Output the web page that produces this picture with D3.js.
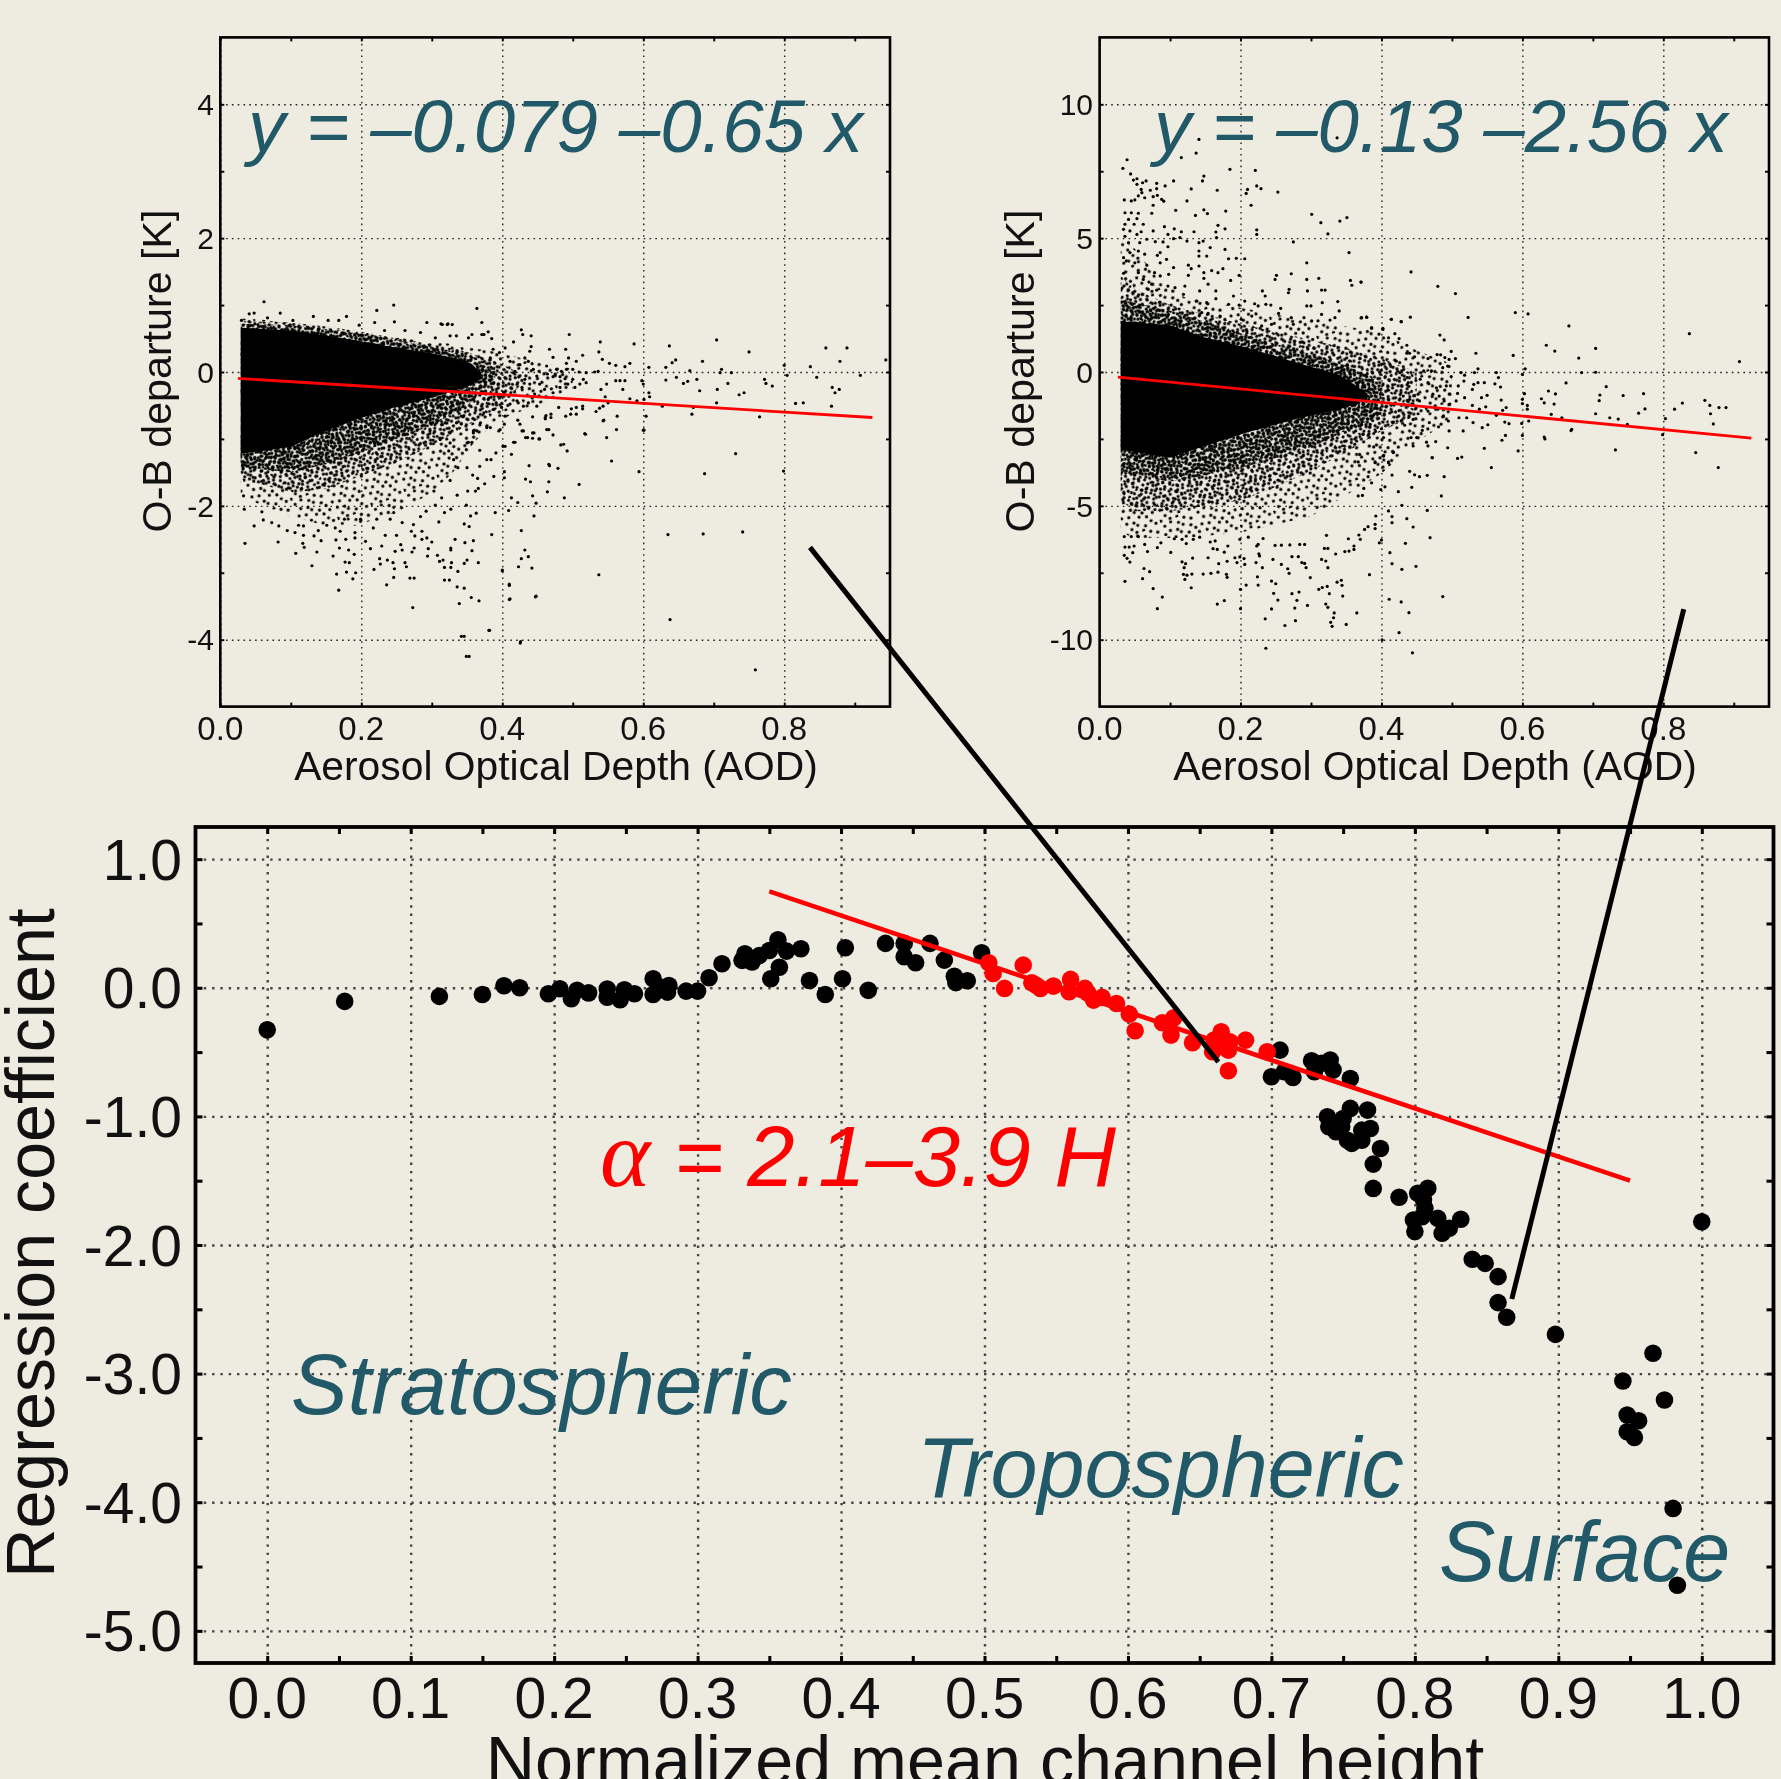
<!DOCTYPE html>
<html>
<head>
<meta charset="utf-8">
<title>AOD regression</title>
<script src="https://cdn.jsdelivr.net/npm/d3@7/dist/d3.min.js"></script>
<style>
    html, body { margin: 0; padding: 0; background: #eeece1; }
    svg { display: block; filter: blur(0.45px); }
    text { font-family: "Liberation Sans", Arial, sans-serif; fill: #111; }
    .grid line { fill: none; }
    .domain { display: none; }
    .note { fill: #215968; font-style: italic; }
    .red { fill: #ff0000; font-style: italic; }
</style>
</head>
<body>
<div id="chart"></div>
<script>
// ---- top panels: tick labels
var aodTicks = [0, 0.2, 0.4, 0.6, 0.8];
var aodMinor = [0.1, 0.3, 0.5, 0.7, 0.9];
var leftTicks = [-4, -2, 0, 2, 4];
var leftMinor = [-3, -1, 1, 3];
var rightTicks = [-10, -5, 0, 5, 10];
var rightMinor = [-7.5, -2.5, 2.5, 7.5];

// regression lines
var leftFitX = [0.025, 0.925];
var leftFitY = [-0.095, -0.68];
var rightFitX = [0.026, 0.925];
var rightFitY = [-0.19, -2.47];

// the black mass of the left panel, too dense to read point by point
var leftMassX = [0.029, 0.1, 0.14, 0.19, 0.24, 0.3, 0.35, 0.37];
var leftMassTop = [0.66, 0.62, 0.56, 0.48, 0.38, 0.28, 0.16, 0];
var leftMassBottom = [-1.22, -1.12, -0.92, -0.72, -0.55, -0.38, -0.22, -0.1];
var leftCoreX = [0.029, 0.1, 0.15, 0.2, 0.25, 0.3, 0.35, 0.39];
var leftCoreTop = [0.72, 0.7, 0.64, 0.58, 0.48, 0.38, 0.26, 0.08];
var leftCoreBottom = [-1.42, -1.5, -1.38, -1.2, -1.0, -0.8, -0.5, -0.18];
var leftDenseX = [0.029, 0.1, 0.15, 0.2, 0.25, 0.3, 0.35, 0.4, 0.43];
var leftDenseTop = [0.76, 0.74, 0.68, 0.6, 0.5, 0.42, 0.3, 0.12, -0.05];
var leftDenseBottom = [-1.6, -1.8, -1.75, -1.55, -1.35, -1.1, -0.8, -0.5, -0.15];
var leftSparseX = [0.029, 0.06, 0.1, 0.15, 0.19, 0.22, 0.26, 0.3, 0.33, 0.36, 0.38, 0.41, 0.45, 0.5];
var leftSparseTop = [0.8, 0.78, 0.72, 0.66, 0.58, 0.55, 0.5, 0.45, 0.42, 0.35, 0.32, 0.25, 0.15, 0.05];
var leftSparseBottom = [-1.85, -2.0, -2.15, -2.3, -2.3, -2.2, -2.05, -1.8, -1.5, -1.05, -0.85, -0.65, -0.5, -0.25];

// individually readable points of the left panel [AOD, departure]
var leftPoints = [
    [.035,-2.56],[.048,-2.30],[.082,-2.54],[.107,-2.71],[.13,-2.895],[.168,-3.26],[.165,-3.02],[.179,-2.99],[.192,-3.0],[.188,-3.09],
    [.177,-2.84],[.183,-2.85],[.16,-2.75],[.137,-2.69],[.119,-2.62],[.117,-2.56],[.143,-2.52],[.133,-2.45],[.169,-2.63],[.182,-2.66],
    [.19,-2.725],[.164,-2.51],[.178,-2.5],[.218,-2.95],[.236,-3.18],[.273,-3.52],[.246,-3.07],[.247,-2.94],[.226,-2.79],[.227,-2.87],
    [.237,-2.81],[.245,-2.85],[.262,-2.85],[.264,-2.91],[.269,-3.08],[.275,-3.08],[.248,-2.68],[.258,-2.66],[.272,-2.69],[.275,-2.63],
    [.256,-2.58],[.229,-2.6],[.213,-2.64],[.206,-2.53],[.234,-2.44],[.25,-2.44],[.271,-2.38],[.276,-2.45],[.286,-2.38],[.286,-2.5],
    [.293,-2.48],[.3,-2.54],[.295,-2.64],[.294,-2.75],[.308,-2.74],[.311,-2.83],[.316,-2.81],[.318,-2.92],[.327,-2.92],[.328,-2.85],
    [.327,-2.66],[.327,-2.63],[.333,-2.5],[.347,-2.55],[.337,-2.98],[.35,-2.81],[.346,-2.86],[.366,-2.85],[.357,-2.67],[.359,-2.52],
    [.318,-3.11],[.325,-3.11],[.336,-3.21],[.346,-3.23],[.356,-3.37],[.367,-3.42],[.339,-3.46],[.385,-2.43],[.346,-2.27],[.353,-2.31],
    [.355,-2.15],[.363,-2.11],[.349,-1.99],[.381,-3.86],[.346,-3.95],[.353,-4.25],[.4255,-4.05],[.4,-2.96],[.41,-3.19],[.41,-3.4],
    [.447,-3.36],[.423,-2.91],[.442,-2.93],[.427,-2.79],[.437,-2.76],[.432,-2.66],[.427,-2.37],[.445,-2.15],[.409,-2.07],[.39,-2.1],
    [.413,-1.88],[.422,-1.95],[.443,-1.85],[.448,-1.96],[.464,-1.79],[.466,-1.64],[.433,-1.6],[.44,-1.64],[.438,-1.4],[.413,-1.23],
    [.416,-1.05],[.401,-1.11],[.403,-1.49],[.403,-1.58],[.388,-1.56],[.375,-1.67],[.366,-1.74],[.362,-1.78],[.351,-1.78],[.336,-1.84],
    [.327,-2.05],[.318,-2.1],[.314,-1.88],[.305,-1.99],[.284,-2.16],[.303,-1.78],[.358,-1.54],[.365,-1.59],[.337,-1.43],[.326,-1.62],
    [.331,-1.31],[.368,-1.41],[.378,-1.31],[.384,-1.31],[.368,-1.17],[.391,-1.21],[.35,-1.43],[.349,-1.16],[.35,-1.06],[.324,-1.18],
    [.326,-1.06],[.312,-1.01],[.359,-.88],[.369,-.76],[.378,-.83],[.395,-.88],[.403,-.78],[.422,-.72],[.428,-.88],[.433,-.98],
    [.443,-.91],[.452,-1.0],[.466,-1.38],[.461,-.68],[.463,-.86],
    [.364,.95],[.315,.71],[.322,.71],[.329,.71],[.371,.74],[.427,.63],[.429,.56],[.441,.54],[.495,.56],[.38,.6],
    [.371,.56],[.374,.56],[.357,.56],[.352,.51],[.335,.54],[.326,.54],[.385,.5],[.416,.45],[.539,.45],[.587,.42],
    [.637,.39],[.704,.48],[.75,.3],[.859,.36],[.889,.36],[.944,.18],[.879,.16],[.837,.08],[.8,.1],[.684,.16],
    [.646,.18],[.641,.14],[.632,.07],[.608,.07],[.581,.13],[.574,.08],[.561,.1],[.552,.13],[.542,.19],[.537,.3],
    [.514,.25],[.49,.34],[.467,.34],[.441,.38],[.439,.31],[.505,.16],[.494,.21],[.472,.22],[.711,.04],[.725,-.01],
    [.709,-.01],[.666,.02],[.908,-.05],[.804,-.05],[.846,-.08],[.868,-.23],[.872,-.31],[.878,-.26],[.867,-.51],[.827,-.46],
    [.816,-.47],[.783,-.21],[.774,-.17],[.772,-.11],[.765,-.67],[.743,-.31],[.736,-.34],[.72,-.17],[.705,-.26],[.704,-.46],
    [.68,-.28],[.676,-.11],[.663,-.14],[.657,-.17],[.647,-.08],[.632,-.12],[.627,-.51],[.671,-.53],[.669,-.63],[.608,-.31],
    [.609,-.37],[.598,-.13],[.6,-.18],[.604,-.66],[.601,-.41],[.591,-.43],[.581,-.4],[.601,-.87],[.571,-.26],[.574,-.13],
    [.567,-.13],[.561,-.13],[.548,-.18],[.54,-.26],[.546,-.37],[.55,-.46],[.543,-.51],[.538,-.54],[.533,-.59],[.563,-.66],
    [.543,-.73],[.548,-.98],[.518,-.93],[.487,-1.08],[.472,-.94],[.466,-.86],[.453,-1.0],[.445,-.91],[.443,-.99],[.436,-.98],
    [.43,-.88],[.425,-.78],[.418,-1.05],[.404,-1.11],[.514,-.51],[.514,-.55],[.505,-.63],[.497,-.63],[.49,-.66],[.505,-.53],
    [.498,-.55],[.48,-.53],[.469,-.63],[.462,-.65],[.469,-.68],[.461,-.7],[.443,-.67],
    [.477,.04],[.484,.01],[.491,.04],[.475,-.03],[.482,-.07],[.489,-.1],[.472,-.07],[.464,-.03],[.463,.09],[.491,.13],
    [.5,.04],[.509,0],[.519,-.01],[.531,0],[.536,.01],[.5,-.11],[.515,-.11],[.51,-.18],[.519,-.16],[.503,-.23],
    [.493,-.18],[.482,-.23],[.472,-.31],[.46,-.26],[.453,-.18],[.449,-.06],[.444,.04],[.437,.16],[.432,.21],[.425,.11],
    [.418,.01],[.411,.16],[.404,.36],[.396,.29],[.387,.34],[.383,.21],[.432,-.11],[.439,-.18],[.428,-.23],[.446,-.33],
    [.437,-.46],[.449,-.51],[.43,-.51],[.421,-.43],[.411,-.48],[.399,-.53],[.404,-.66],[.397,-.86],[.383,-.83],[.359,-.91],
    [.364,-.88],[.357,-1.05],[.352,-1.05],[.326,-.91],[.319,-.76],[.335,-.76],[.342,-.66],[.374,-.61],[.387,-.56],[.38,-.41],
    [.394,-.36],
    [.537,-3.03],[.555,-1.33],[.517,-.92],[.509,-1.68],[.488,-1.88],[.492,-1.18],[.483,-1.09],[.479,-1.44],[.467,-1.4],[.562,-.86],
    [.544,-.72],[.594,-1.49],[.6,-.87],[.635,-2.43],[.685,-2.42],[.741,-2.39],[.638,-3.7],[.687,-1.52],[.731,-1.22],[.799,-1.48],
    [.759,-4.45],[.342,-3.95],[.349,-4.25],[.382,-3.86],[.426,-4.03],[.448,-3.35],[.411,-3.39],[.41,-3.17],[.4,-2.97],
    [.062,1.05],[.222,.92],[.246,1.0],[.041,.87],[.048,.88],[.085,.88],[.03,.77],[.067,.81],[.132,.83],[.179,.83],
    [.153,.77],[.103,.77],[.293,.74],[.247,.75],[.313,.72],[.323,.72],[.219,.74],[.197,.7],[.262,.62],[.233,.62],
    [.284,.59],[.305,.51],[.168,.77],
    [.033,-1.85],[.034,-2.05],[.059,-2.09],[.061,-2.21],[.073,-2.25],[.083,-2.3],[.095,-2.37],[.106,-2.4],[.118,-2.44],[.111,-2.29],
    [.118,-2.3],[.139,-2.37],[.151,-2.29],[.163,-2.33],[.17,-2.38],[.191,-2.4],[.191,-2.48],[.176,-2.2],[.199,-2.2],[.217,-2.33],
    [.222,-2.2],[.241,-2.2],[.258,-2.25],[.274,-2.28],[.292,-2.08],[.31,-2.24],[.246,-2.1]
];

// same for the right panel
var rightMassX = [0.03, 0.1, 0.14, 0.21, 0.28, 0.34, 0.38];
var rightMassTop = [1.9, 1.75, 1.35, 0.9, 0.35, -0.1, -0.8];
var rightMassBottom = [-2.9, -3.2, -2.85, -2.25, -1.75, -1.4, -1.05];
var rightCoreX = [0.03, 0.1, 0.2, 0.3, 0.35, 0.4];
var rightCoreTop = [2.7, 2.3, 1.45, 0.65, 0.25, -0.4];
var rightCoreBottom = [-3.7, -4.1, -3.6, -2.8, -2.2, -1.6];
var rightDenseX = [0.03, 0.05, 0.1, 0.2, 0.25, 0.3, 0.35, 0.4, 0.45];
var rightDenseTop = [3.6, 3.1, 2.5, 1.8, 1.5, 1.2, 0.9, 0.5, 0];
var rightDenseBottom = [-4.8, -5.2, -5.2, -4.8, -4.3, -3.7, -3.0, -2.2, -1.6];
var rightSparseX = [0.03, 0.05, 0.08, 0.12, 0.2, 0.3, 0.4, 0.45, 0.5];
var rightSparseTop = [5.0, 4.6, 3.6, 2.8, 2.4, 1.9, 1.5, 0.8, 0.3];
var rightSparseBottom = [-6.0, -6.2, -6.2, -6.2, -6.0, -5.4, -3.8, -2.6, -1.8];

var rightPoints = [
    [.039,7.93],[.033,7.61],[.044,7.4],[.053,7.22],[.048,7.17],[.061,7.07],[.066,7.14],[.053,7.01],[.081,7.05],[.093,6.95],
    [.105,7.14],[.081,6.85],[.072,6.79],[.059,6.82],[.06,6.7],[.055,6.58],[.064,6.51],[.076,6.55],[.082,6.6],[.088,6.45],
    [.091,6.38],[.035,6.43],[.045,6.39],[.05,6.43],[.076,6.23],[.074,5.93],[.108,6.04],[.116,8.01],[.137,8.18],[.141,8.69],
    [.13,6.84],[.124,6.39],[.148,7.32],[.146,7.14],[.167,6.79],[.136,5.85],[.148,6.06],[.153,5.92],[.179,6.01],[.185,7.57],
    [.221,7.53],[.223,6.95],[.229,6.85],[.21,6.82],[.208,6.67],[.215,6.23],[.253,6.72],[.337,8.75],[.301,5.89],[.314,5.58],
    [.341,5.64],[.351,5.77],[.324,5.16],[.223,5.31],[.223,5.14],[.178,5.35],[.168,5.48],[.165,5.23],[.166,5.02],[.134,5.24],
    [.116,5.24],[.106,5.35],[.092,5.43],[.076,5.27],[.097,5.14],[.036,5.95],[.045,5.95],[.055,5.93],[.041,5.7],[.053,5.73],
    [.036,5.52],[.049,5.52],[.062,5.52],[.034,5.33],[.043,5.27],[.059,5.24],[.036,5.07],[.053,5.14],[.067,4.96],[.079,4.87],
    [.041,4.83],[.057,4.83],[.09,4.86],[.105,4.98],[.114,5.02],[.124,4.89],[.147,4.89],[.141,4.83],[.141,4.52],[.141,4.33],
    [.152,4.33],[.157,4.65],[.178,4.58],[.183,4.23],[.194,4.25],[.206,4.23],[.275,4.86],[.354,4.46],[.294,4.08],[.272,3.67],
    [.251,3.61],[.249,3.46],[.311,3.5],[.294,3.46],[.356,3.42],[.371,3.36],[.358,3.24],[.231,3.03],[.235,2.84],[.269,3.09],
    [.268,2.96],[.295,3.03],[.315,3.06],[.32,3.06],[.19,2.84],[.198,3.61],[.186,3.42],[.148,3.71],[.148,3.5],[.159,3.79],
    [.168,3.71],[.175,3.86],[.141,3.96],[.097,4.68],[.086,4.46],[.082,4.36],[.064,4.4],[.055,4.52],[.043,4.46],[.034,4.27],
    [.038,4.15],[.05,4.08],[.067,3.99],[.086,4.08],[.095,4.21],[.105,3.9],[.126,3.99],[.13,3.86],[.078,3.71],[.086,3.59],
    [.098,3.65],[.126,3.61],[.034,3.69],[.055,3.71],[.062,3.46],[.074,3.28],[.097,3.21],[.107,3.15],[.121,3.21],[.142,3.03],
    [.154,3.28],[.165,3.03],[.119,2.9],[.069,3.09],[.081,3.06],[.138,2.65],[.152,2.59],[.183,2.53],[.198,2.5],[.206,2.65],
    [.165,2.74],[.22,2.55],[.236,2.53],[.243,2.5],[.257,2.38],[.254,2.19],[.316,2.59],[.294,2.47],[.3,2.47],[.338,2.63],
    [.34,2.28],[.315,2.15],[.29,2.03],[.272,2.03],[.334,2.03],[.372,2.03],[.379,2.05],[.414,1.97],[.428,1.88],[.386,1.66],
    [.402,1.63],[.327,1.94],[.31,1.91],[.301,1.91],[.275,1.78],[.244,1.78],[.23,1.72],[.216,2.09],[.225,2.47],[.201,1.97],
    [.171,2.09],[.154,2.19],[.145,2.22],
    [.036,-7.82],[.061,-7.72],[.063,-7.34],[.071,-7.46],[.076,-8.09],[.089,-8.41],[.082,-8.84],[.119,-7.56],[.121,-7.75],[.124,-7.59],
    [.131,-7.55],[.13,-8.06],[.12,-7.31],[.122,-7.16],[.117,-7.09],[.132,-6.95],[.147,-7.55],[.158,-7.52],[.168,-7.48],[.18,-7.56],
    [.181,-7.67],[.167,-8.67],[.177,-8.54],[.2,-8.12],[.2,-8.84],[.208,-7.96],[.224,-7.65],[.225,-7.96],[.235,-9.22],[.236,-10.32],
    [.244,-8.85],[.253,-8.52],[.247,-8.27],[.244,-7.81],[.25,-7.91],[.263,-9.47],[.278,-9.29],[.277,-8.82],[.28,-8.53],[.273,-8.28],
    [.283,-8.22],[.295,-8.72],[.299,-7.68],[.269,-7.52],[.267,-7.35],[.293,-7.31],[.311,-8.12],[.316,-8.05],[.323,-8.01],[.326,-8.28],
    [.321,-8.67],[.324,-8.79],[.333,-9.0],[.332,-9.18],[.328,-9.35],[.33,-9.5],[.35,-9.43],[.365,-9.0],[.337,-7.85],[.343,-7.78],
    [.344,-7.97],[.345,-8.37],[.324,-7.31],[.383,-7.57],[.411,-8.49],[.428,-8.59],[.439,-8.99],[.425,-9.74],[.444,-10.49],[.401,-10.01],
    [.487,-8.39],[.412,-6.75],[.415,-7.16],[.429,-7.37],[.449,-7.26],[.434,-6.4],[.469,-6.19],[.445,-5.79],[.436,-5.48],[.465,-5.17],
    [.429,-4.98],[.397,-6.38],[.4,-6.28],[.391,-5.85],[.391,-5.69],[.381,-5.78],[.376,-5.88],[.392,-5.38],[.415,-5.4],[.415,-5.63],
    [.41,-5.19],[.368,-6.09],[.37,-6.25],[.361,-6.5],[.361,-6.63],[.353,-6.23],[.354,-6.69],[.348,-6.71],[.335,-6.8],[.324,-6.59],
    [.319,-6.59],[.322,-6.1],[.321,-7.06],[.315,-7.0],[.291,-7.15],[.287,-7.12],[.282,-6.9],[.273,-6.9],[.258,-7.19],[.246,-7.0],
    [.231,-7.31],[.222,-7.12],[.206,-7.19],[.199,-6.91],[.192,-6.94],[.205,-6.97],[.227,-6.87],[.226,-6.79],[.223,-6.5],[.291,-6.44],
    [.284,-6.44],[.27,-6.46],[.258,-6.47],[.249,-6.48],[.232,-6.22],[.225,-6.44],[.211,-6.17],[.199,-6.25],[.195,-7.12],[.181,-7.07],
    [.169,-7.16],[.154,-6.94],[.161,-6.6],[.177,-6.73],[.167,-6.63],[.182,-6.5],[.068,-6.71],[.082,-6.56],[.101,-6.74],[.123,-6.41],
    [.036,-6.54],[.042,-6.54],[.049,-6.5],[.047,-6.75],[.035,-6.85],[.039,-6.96],[.043,-7.1],[.064,-6.44],[.087,-6.38],[.035,-6.15],
    [.045,-6.15],[.055,-6.15],[.094,-6.07],[.106,-6.23],[.117,-6.25],[.133,-6.25],[.142,-6.17],[.157,-6.35],[.164,-6.31],
    [.415,-3.85],[.44,-3.71],[.447,-3.84],[.454,-3.91],[.465,-3.86],[.489,-3.91],[.472,-3.2],[.443,-4.31],[.424,-4.47],[.485,-4.63],
    [.399,-4.39],[.405,-4.29],[.367,-4.63],[.373,-4.61],[.375,-4.35],[.386,-4.14],[.381,-3.91],[.41,-3.39],[.391,-3.39],[.417,-3.01],
    [.403,-3.11],
    [.442,3.74],[.48,3.2],[.505,2.93],[.523,2.04],[.59,2.22],[.608,2.17],[.666,1.72],[.837,1.43],[.634,1.0],[.646,.78],
    [.704,.88],[.68,.52],[.587,.62],[.908,.39],[.684,-.02],[.704,-.01],[.604,.12],[.6,-.09],[.662,-.41],[.719,-.55],
    [.772,-.81],[.743,-.88],[.71,-.86],[.709,-1.07],[.637,-.71],[.647,-.82],[.627,-1.0],[.631,-1.15],[.645,-1.2],[.603,-.81],
    [.6,-1.02],[.6,-1.18],[.607,-1.25],[.607,-1.39],[.609,-1.83],[.599,-1.92],[.641,-1.58],[.656,-1.71],[.704,-1.56],[.724,-1.71],
    [.736,-1.76],[.765,-1.54],[.774,-1.38],[.749,-1.96],[.803,-1.74],[.816,-1.39],[.827,-1.16],[.859,-1.06],[.866,-1.25],[.879,-1.33],
    [.889,-1.33],[.867,-1.56],[.871,-1.94],[.799,-2.34],[.846,-3.01],[.878,-3.57],[.732,-2.91],[.67,-2.14],[.669,-2.19],[.631,-2.43],
    [.632,-2.5],[.6,-2.37],[.594,-2.95],[.576,-2.37],[.571,-2.55],[.546,-2.85],[.556,-3.57],[.514,-3.18],[.508,-3.23],[.494,-2.83],
    [.472,-3.2],[.477,-2.6],[.464,-2.62],[.466,-2.76],[.445,-2.76],[.45,-2.45],[.442,-2.45],[.458,-2.18],[.417,-2.99],[.41,-3.36],
    [.403,-3.14],[.403,-2.45],[.389,-2.8],[.391,-3.36],[.367,-3.36],[.369,-3.08],[.362,-2.7],[.374,-2.33],
    [.483,1.38],[.489,1.2],[.534,.7],[.499,.77],[.479,.65],[.484,.64],[.49,.54],[.496,.47],[.505,.5],[.466,.5],
    [.447,.57],[.44,.7],[.436,.7],[.436,1.0],[.425,1.25],[.419,1.43],[.41,1.28],[.402,1.59],[.386,1.63],[.428,1.88],
    [.441,2.05],[.414,1.97],[.379,2.05],[.371,2.02],[.371,3.36],[.537,.12],[.532,-.02],[.518,-.12],[.513,-.02],[.499,-.17],
    [.494,.22],[.487,.16],[.471,.04],[.46,.04],[.563,-.02],[.566,-.21],[.561,-.44],[.569,-.56],[.546,-.4],[.537,-.4],
    [.531,-.46],[.529,-.65],[.517,-.34],[.509,-.52],[.508,-.8],[.497,-.83],[.492,-.52],[.478,-.59],[.466,-.4],[.473,-.83],
    [.482,-.9],[.489,-1.08],[.497,-1.2],[.506,-1.08],[.518,-.96],[.542,-.96],[.55,-.87],[.57,-1.05],[.548,-1.3],[.539,-1.39],
    [.529,-1.25],[.577,-1.33],[.572,-1.43],[.563,-1.62],[.575,-1.87],[.581,-1.93],[.551,-1.97],[.543,-2.08],[.53,-1.89],[.521,-1.71],
    [.51,-1.71],[.516,-2.2],[.496,-2.2],[.495,-1.83],[.481,-2.05],[.488,-1.64],[.468,-1.89],[.466,-1.46],[.48,-1.39],[.452,-1.56],
    [.445,-1.77],[.433,-1.99],[.428,-1.83],[.417,-1.87],[.4,-2.12],[.384,-1.96],[.372,-1.96],[.454,-1.08],[.44,-1.02],[.431,-.9],
    [.438,-.4],[.426,-.02],[.421,.41],[.412,.29],[.455,-.27],[.452,-.83]
];

// ---- bottom panel
var heightTicks = [0, 0.1, 0.2, 0.3, 0.4, 0.5, 0.6, 0.7, 0.8, 0.9, 1.0];
var heightMinor = [0.05, 0.15, 0.25, 0.35, 0.45, 0.55, 0.65, 0.75, 0.85, 0.95];
var coefTicks = [-5, -4, -3, -2, -1, 0, 1];
var coefMinor = [-4.5, -3.5, -2.5, -1.5, -0.5, 0.5];

var tropFitX = [0.35, 0.95];
var tropFitY = [0.75, -1.5];

var blackPoints = [
    [0,-.327],[.054,-.106],[.12,-.067],[.15,-.052],[.165,.016],[.176,0],[.196,-.047],[.204,-.008],[.212,-.085],[.216,-.02],
    [.224,-.04],[.237,-.01],[.237,-.073],[.246,-.093],[.249,-.016],[.256,-.047],[.269,.07],[.269,-.052],[.274,.005],[.28,.018],
    [.279,-.034],[.292,-.026],[.3,-.026],[.308,.078],[.317,.187],[.333,.264],[.331,.213],[.338,.2],[.343,.25],[.35,.29],
    [.356,.373],[.362,.285],[.372,.303],[.357,.16],[.351,.07],[.378,.057],[.389,-.052],[.401,.07],[.403,.311],[.419,-.02],
    [.431,.345],[.444,.345],[.444,.241],[.452,.194],[.462,.345],[.472,.215],[.479,.09],[.48,.04],[.488,.054],[.498,.272],
    [.706,-.485],[.7,-.692],[.709,-.653],[.715,-.697],[.728,-.568],[.73,-.653],[.735,-.588],[.741,-.562],[.743,-.64],[.755,-.705],
    [.739,-1.003],[.74,-1.08],[.745,-1.12],[.75,-1.016],[.755,-.938],[.767,-.951],[.749,-1.08],[.753,-1.185],[.756,-1.21],[.763,-1.185],
    [.763,-1.107],[.769,-1.094],[.776,-1.25],[.771,-1.371],[.771,-1.56],[.789,-1.629],[.802,-1.598],[.809,-1.559],[.806,-1.65],[.807,-1.715],
    [.799,-1.806],[.805,-1.78],[.8,-1.896],[.816,-1.793],[.819,-1.909],[.824,-1.87],[.832,-1.8],[.84,-2.111],[.849,-2.143],[.858,-2.246],
    [.858,-2.448],[.864,-2.562],[.898,-2.695],[.945,-3.057],[.966,-2.842],[.974,-3.205],[.948,-3.322],[.956,-3.366],[.948,-3.452],[.953,-3.496],
    [1.0,-1.819],[.98,-4.048],[.983,-4.646]
];
var redPoints = [
    [.503,.194],[.506,.111],[.514,-.005],[.527,.176],[.533,.039],[.536,.02],[.539,-.005],[.548,.013],[.56,.065],[.559,-.031],
    [.57,-.005],[.572,-.04],[.576,-.096],[.582,-.075],[.592,-.122],[.601,-.205],[.605,-.334],[.624,-.272],[.632,-.233],[.63,-.368],
    [.645,-.428],[.659,-.498],[.66,-.407],[.665,-.342],[.667,-.433],[.67,-.485],[.671,-.42],[.682,-.407],[.67,-.645],[.697,-.498]
];

// black connectors: panel value -> bottom value
var connectorLeft = { from: [0.8365, -2.62], to: [0.663, -0.577] };
var connectorRight = { from: [0.829, -8.86], to: [0.8676, -2.42] };

var W = 1781, H = 1779;

var svg = d3.select("#chart").append("svg")
    .attr("width", W)
    .attr("height", H)
    .style("background", "#eeece1");

// stipple tiles for the parts of the clouds that are too dense to read
var defs = svg.append("defs");
var stippleDots = [[3,4],[11,2],[19,6],[27,3],[34,7],[7,11],[15,13],[23,10],[31,14],[2,18],[10,20],[18,17],[26,21],[35,19],[5,26],[13,28],[21,24],[29,27],[37,25],[8,34],[16,32],[24,36],[32,33],[1,38],[12,39],[20,40],[36,38]];
makeTile("sparse", 36, -23);
makeTile("dense", 26, 38);
makeTile("core", 21, -61);

function makeTile(id, size, angle) {
    var p = defs.append("pattern")
        .attr("id", id)
        .attr("patternUnits", "userSpaceOnUse")
        .attr("patternTransform", "rotate(" + angle + ")")
        .attr("width", size)
        .attr("height", size);
    p.selectAll("circle").data(stippleDots).enter().append("circle")
        .attr("cx", function(d) { return d[0] * size / 41; })
        .attr("cy", function(d) { return d[1] * size / 41; })
        .attr("r", 1.6)
        .attr("fill", "#000");
}

// draws frame, dotted grid, ticks and labels of one panel
function drawAxes(g, x, y, o) {
    var x0 = x.range()[0], x1 = x.range()[1], y0 = y.range()[0], y1 = y.range()[1];
    var plotH = y0 - y1, plotW = x1 - x0;

    // grid
    g.append("g").attr("class", "grid").attr("transform", "translate(0," + y0 + ")")
        .call(d3.axisBottom(x).tickValues(o.xTicks).tickSize(-plotH).tickFormat(""));
    g.append("g").attr("class", "grid").attr("transform", "translate(" + x0 + ",0)")
        .call(d3.axisLeft(y).tickValues(o.yTicks).tickSize(-plotW).tickFormat(""));
    g.selectAll(".grid line")
        .attr("stroke", o.gridColor)
        .attr("stroke-width", o.gridWidth)
        .attr("stroke-dasharray", o.gridDash);

    // inner ticks on all four sides
    var xAll = o.xTicks.concat(o.xMinor), yAll = o.yTicks.concat(o.yMinor);
    [[d3.axisBottom(x).tickValues(xAll).tickSize(-o.tick), 0, y0],
     [d3.axisTop(x).tickValues(xAll).tickSize(-o.tick), 0, y1],
     [d3.axisLeft(y).tickValues(yAll).tickSize(-o.tick), x0, 0],
     [d3.axisRight(y).tickValues(yAll).tickSize(-o.tick), x1, 0]].forEach(function(a) {
        var t = g.append("g").attr("transform", "translate(" + a[1] + "," + a[2] + ")")
            .call(a[0].tickFormat(""));
        t.selectAll("line").attr("stroke", "#000").attr("stroke-width", o.frameWidth * 0.8);
    });

    // labels
    g.selectAll(".xl").data(o.xTicks).enter().append("text")
        .attr("x", function(d) { return x(d); })
        .attr("y", o.xLabelY)
        .attr("text-anchor", "middle")
        .style("font-size", o.xTickFont + "px")
        .text(function(d) { return d.toFixed(1); });
    g.selectAll(".yl").data(o.yTicks).enter().append("text")
        .attr("x", o.yLabelX)
        .attr("y", function(d) { return y(d) + o.yTickFont * 0.36; })
        .attr("text-anchor", "end")
        .style("font-size", o.yTickFont + "px")
        .text(o.yFormat);

    g.append("text")
        .attr("x", o.xTitleX)
        .attr("y", o.xTitleY)
        .attr("text-anchor", "middle")
        .style("font-size", o.xTitleFont + "px")
        .text(o.xTitle);
    g.append("text")
        .attr("transform", "translate(" + o.yTitleX + "," + o.yTitleY + ") rotate(-90)")
        .attr("text-anchor", "middle")
        .style("font-size", o.yTitleFont + "px")
        .text(o.yTitle);
}

function drawFrame(g, x, y, width) {
    g.append("rect")
        .attr("x", x.range()[0])
        .attr("y", y.range()[1])
        .attr("width", x.range()[1] - x.range()[0])
        .attr("height", y.range()[0] - y.range()[1])
        .attr("fill", "none")
        .attr("stroke", "#000")
        .attr("stroke-width", width);
}

// density band between two read outlines
function drawBand(g, x, y, xs, top, bottom, fill) {
    var area = d3.area()
        .x(function(d) { return x(d[0]); })
        .y0(function(d) { return y(d[2]); })
        .y1(function(d) { return y(d[1]); });
    g.append("path")
        .attr("d", area(xs.map(function(v, i) { return [v, top[i], bottom[i]]; })))
        .attr("fill", fill);
}

function drawFit(g, x, y, xs, ys, width) {
    g.append("line")
        .attr("x1", x(xs[0])).attr("y1", y(ys[0]))
        .attr("x2", x(xs[1])).attr("y2", y(ys[1]))
        .attr("stroke", "#ff0000")
        .attr("stroke-width", width);
}

function drawPoints(g, x, y, data, r, color) {
    g.selectAll(null).data(data).enter().append("circle")
        .attr("cx", function(d) { return x(d[0]); })
        .attr("cy", function(d) { return y(d[1]); })
        .attr("r", r)
        .attr("fill", color);
}

function topPanel(x, y, o, d) {
    var g = svg.append("g");
    drawAxes(g, x, y, o);
    drawBand(g, x, y, d.sparseX, d.sparseTop, d.sparseBottom, "url(#sparse)");
    drawBand(g, x, y, d.denseX, d.denseTop, d.denseBottom, "url(#dense)");
    drawBand(g, x, y, d.coreX, d.coreTop, d.coreBottom, "url(#core)");
    drawBand(g, x, y, d.massX, d.massTop, d.massBottom, "#000");
    drawPoints(g, x, y, d.points, 1.6, "#000");
    drawFit(g, x, y, d.fitX, d.fitY, 2.8);
    drawFrame(g, x, y, 2.6);
    g.append("text")
        .attr("class", "note")
        .attr("x", d.noteX)
        .attr("y", 152)
        .style("font-size", "74.5px")
        .text(d.note);
}

var xLeft = d3.scaleLinear().domain([0, 0.95]).range([220.3, 890]);
var yLeft = d3.scaleLinear().domain([-5, 5]).range([706.6, 37.4]);
var xRight = d3.scaleLinear().domain([0, 0.95]).range([1099.6, 1769]);
var yRight = d3.scaleLinear().domain([-12.5, 12.5]).range([706.6, 37.4]);

var topStyle = {
    xTicks: aodTicks, xMinor: aodMinor,
    gridColor: "#222", gridWidth: 1.4, gridDash: "1.6 4.2",
    tick: 4, frameWidth: 2.4, xTickFont: 33, yTickFont: 30,
    xLabelY: 740, xTitleFont: 40.8, yTitleFont: 41.2, xTitleY: 780,
    xTitle: "Aerosol Optical Depth (AOD)", yTitle: "O-B departure [K]",
    yTitleY: 371,
    yFormat: function(d) { return String(d); }
};

topPanel(xLeft, yLeft, Object.assign({}, topStyle, {
    yTicks: leftTicks, yMinor: leftMinor,
    yLabelX: 214, xTitleX: 556, yTitleX: 171
}), {
    massX: leftMassX, massTop: leftMassTop, massBottom: leftMassBottom,
    coreX: leftCoreX, coreTop: leftCoreTop, coreBottom: leftCoreBottom,
    denseX: leftDenseX, denseTop: leftDenseTop, denseBottom: leftDenseBottom,
    sparseX: leftSparseX, sparseTop: leftSparseTop, sparseBottom: leftSparseBottom,
    points: leftPoints, fitX: leftFitX, fitY: leftFitY,
    note: "y = \u20130.079 \u20130.65 x", noteX: 248
});

topPanel(xRight, yRight, Object.assign({}, topStyle, {
    yTicks: rightTicks, yMinor: rightMinor,
    yLabelX: 1093, xTitleX: 1435, yTitleX: 1034
}), {
    massX: rightMassX, massTop: rightMassTop, massBottom: rightMassBottom,
    coreX: rightCoreX, coreTop: rightCoreTop, coreBottom: rightCoreBottom,
    denseX: rightDenseX, denseTop: rightDenseTop, denseBottom: rightDenseBottom,
    sparseX: rightSparseX, sparseTop: rightSparseTop, sparseBottom: rightSparseBottom,
    points: rightPoints, fitX: rightFitX, fitY: rightFitY,
    note: "y = \u20130.13 \u20132.56 x", noteX: 1154
});

// bottom panel
var xBottom = d3.scaleLinear().domain([-0.05, 1.05]).range([195.5, 1773.5]);
var yBottom = d3.scaleLinear().domain([-5.25, 1.25]).range([1663, 827]);

var bottom = svg.append("g");
drawAxes(bottom, xBottom, yBottom, {
    xTicks: heightTicks, xMinor: heightMinor,
    yTicks: coefTicks, yMinor: coefMinor,
    gridColor: "#444", gridWidth: 2.4, gridDash: "2.4 5.9",
    tick: 7, frameWidth: 3.8, xTickFont: 57, yTickFont: 57,
    xLabelY: 1718, yLabelX: 182,
    xTitleFont: 68.3, yTitleFont: 68.2, xTitleX: 985, xTitleY: 1784,
    yTitleX: 54, yTitleY: 1243,
    xTitle: "Normalized mean channel height",
    yTitle: "Regression coefficient",
    yFormat: function(d) { return d.toFixed(1); }
});
drawPoints(bottom, xBottom, yBottom, blackPoints, 8.8, "#000");
drawFit(bottom, xBottom, yBottom, tropFitX, tropFitY, 4.6);
drawPoints(bottom, xBottom, yBottom, redPoints, 8.8, "#ff0000");
drawFrame(bottom, xBottom, yBottom, 3.8);

bottom.append("text").attr("class", "note").attr("x", 291).attr("y", 1414)
    .style("font-size", "85px").text("Stratospheric");
bottom.append("text").attr("class", "note").attr("x", 917).attr("y", 1497)
    .style("font-size", "84.5px").text("Tropospheric");
bottom.append("text").attr("class", "note").attr("x", 1439).attr("y", 1581)
    .style("font-size", "84.5px").text("Surface");

var alpha = bottom.append("text").attr("class", "red").attr("x", 600).attr("y", 1186)
    .style("font-size", "85px");
alpha.append("tspan").style("font-family", "'Liberation Serif', serif").style("font-size", "96px").style("fill", "#ff0000").text("\u03b1");
alpha.append("tspan").style("fill", "#ff0000").text(" = 2.1\u20133.9 H");

// connectors run across the panels
svg.append("line")
    .attr("x1", xLeft(connectorLeft.from[0])).attr("y1", yLeft(connectorLeft.from[1]))
    .attr("x2", xBottom(connectorLeft.to[0])).attr("y2", yBottom(connectorLeft.to[1]))
    .attr("stroke", "#000").attr("stroke-width", 5);
svg.append("line")
    .attr("x1", xRight(connectorRight.from[0])).attr("y1", yRight(connectorRight.from[1]))
    .attr("x2", xBottom(connectorRight.to[0])).attr("y2", yBottom(connectorRight.to[1]))
    .attr("stroke", "#000").attr("stroke-width", 5);
</script>
</body>
</html>
